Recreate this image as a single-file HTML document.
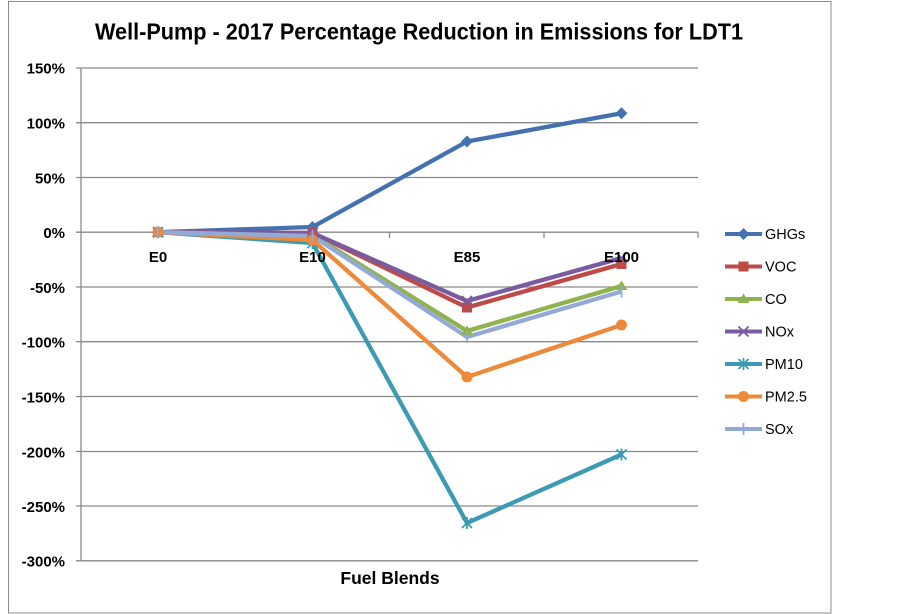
<!DOCTYPE html>
<html><head><meta charset="utf-8"><style>
html,body{margin:0;padding:0;background:#fff;}
svg{display:block;}
text{font-family:"Liberation Sans",sans-serif;}
</style></head><body>
<svg width="903" height="614" viewBox="0 0 903 614" xmlns="http://www.w3.org/2000/svg">
<rect x="0" y="0" width="903" height="614" fill="#fff"/>
<rect x="8.5" y="1.5" width="822.5" height="611.5" fill="#fff" stroke="#8c8c8c" stroke-width="1"/>
<text x="95" y="39.5" font-size="23" font-weight="bold" fill="#000" textLength="648" lengthAdjust="spacingAndGlyphs">Well-Pump - 2017 Percentage Reduction in Emissions for LDT1</text>

<g stroke="#8a8a8a" stroke-width="1.3" fill="none">
<line x1="76" y1="68" x2="698" y2="68"/>
<line x1="76" y1="122.7" x2="698" y2="122.7"/>
<line x1="76" y1="177.5" x2="698" y2="177.5"/>
<line x1="76" y1="232.2" x2="698" y2="232.2"/>
<line x1="76" y1="287" x2="698" y2="287"/>
<line x1="76" y1="341.7" x2="698" y2="341.7"/>
<line x1="76" y1="396.5" x2="698" y2="396.5"/>
<line x1="76" y1="451.5" x2="698" y2="451.5"/>
<line x1="76" y1="506" x2="698" y2="506"/>
<line x1="76" y1="560.8" x2="698" y2="560.8"/>
<line x1="81" y1="68" x2="81" y2="560.8"/>
<line x1="389.5" y1="232.2" x2="389.5" y2="238"/>
<line x1="544" y1="232.2" x2="544" y2="238"/>
<line x1="698" y1="232.2" x2="698" y2="238"/>
</g>

<g font-size="15" font-weight="bold" fill="#000" text-anchor="end">
<text x="65" y="73.5">150%</text>
<text x="65" y="128.5">100%</text>
<text x="65" y="183.5">50%</text>
<text x="65" y="238">0%</text>
<text x="65" y="293">-50%</text>
<text x="65" y="347.5">-100%</text>
<text x="65" y="402.5">-150%</text>
<text x="65" y="457.5">-200%</text>
<text x="65" y="512">-250%</text>
<text x="65" y="566.5">-300%</text>
</g>

<g stroke-width="4.3" fill="none" stroke-linejoin="round">
<polyline stroke="#4472b0" points="158,232.2 312.5,227 467,141.5 621.5,113.3"/>
<polyline stroke="#be4b48" points="158,232.2 312.5,233 467,307.5 621.5,264"/>
<polyline stroke="#8fb34f" points="158,232.2 312.5,235 467,331 621.5,286"/>
<polyline stroke="#7a5c9e" points="158,232.2 312.5,233 467,301 621.5,258"/>
<polyline stroke="#3c9bb3" points="158,232.2 312.5,243 467,523 621.5,454.5"/>
<polyline stroke="#ec8a3a" points="158,232.2 312.5,240 467,377 621.5,325"/>
<polyline stroke="#93aad6" points="158,232.2 312.5,236 467,337 621.5,291.5"/>
</g>

<!-- markers -->
<g fill="#4472b0">
<polygon points="158,226 164,232.2 158,238.4 152,232.2"/>
<polygon points="312.5,221 318.5,227 312.5,233 306.5,227"/>
<polygon points="467,135.5 473,141.5 467,147.5 461,141.5"/>
<polygon points="621.5,107.3 627.5,113.3 621.5,119.3 615.5,113.3"/>
</g>
<g fill="#be4b48">
<rect x="153" y="227.2" width="10" height="10"/>
<rect x="307.5" y="228" width="10" height="10"/>
<rect x="462" y="302.5" width="10" height="10"/>
<rect x="616.5" y="259" width="10" height="10"/>
</g>
<g fill="#8fb34f">
<polygon points="158,226.7 164,236.2 152,236.2"/>
<polygon points="312.5,229.5 318.5,239 306.5,239"/>
<polygon points="467,325.5 473,335 461,335"/>
<polygon points="621.5,280.5 627.5,290 615.5,290"/>
</g>
<g stroke="#7a5c9e" stroke-width="1.8">
<path d="M153,227.2l10,10M163,227.2l-10,10"/>
<path d="M307.5,228l10,10M317.5,228l-10,10"/>
<path d="M462,296l10,10M472,296l-10,10"/>
<path d="M616.5,253l10,10M626.5,253l-10,10"/>
</g>
<g stroke="#3c9bb3" stroke-width="1.8">
<path d="M153,227.2l10,10M163,227.2l-10,10M158,226v12.4"/>
<path d="M307.5,238l10,10M317.5,238l-10,10M312.5,237v12"/>
<path d="M462,518l10,10M472,518l-10,10M467,517v12"/>
<path d="M616.5,449.5l10,10M626.5,449.5l-10,10M621.5,448.5v12"/>
</g>
<g fill="#ec8a3a">
<circle cx="158" cy="232.2" r="5.5"/>
<circle cx="312.5" cy="240" r="5.5"/>
<circle cx="467" cy="377" r="5.5"/>
<circle cx="621.5" cy="325" r="5.5"/>
</g>
<g stroke="#93aad6" stroke-width="1.8">
<path d="M158,226v12.4"/>
<path d="M312.5,230v12"/>
<path d="M467,331v12"/>
<path d="M621.5,285.5v12"/>
</g>

<g font-size="15" font-weight="bold" fill="#000" text-anchor="middle">
<text x="158" y="262">E0</text>
<text x="312.5" y="262">E10</text>
<text x="467" y="262">E85</text>
<text x="621.5" y="262">E100</text>
</g>
<text x="390" y="584" font-size="17.5" font-weight="bold" fill="#000" text-anchor="middle">Fuel Blends</text>

<!-- legend -->
<g stroke-width="4" fill="none">
<line x1="725" y1="234" x2="762" y2="234" stroke="#4472b0"/>
<line x1="725" y1="266.5" x2="762" y2="266.5" stroke="#be4b48"/>
<line x1="725" y1="299" x2="762" y2="299" stroke="#8fb34f"/>
<line x1="725" y1="331.5" x2="762" y2="331.5" stroke="#7a5c9e"/>
<line x1="725" y1="364" x2="762" y2="364" stroke="#3c9bb3"/>
<line x1="725" y1="396.5" x2="762" y2="396.5" stroke="#ec8a3a"/>
<line x1="725" y1="429" x2="762" y2="429" stroke="#93aad6"/>
</g>
<polygon points="743.5,228 749.5,234 743.5,240 737.5,234" fill="#4472b0"/>
<rect x="738.5" y="261.5" width="10" height="10" fill="#be4b48"/>
<polygon points="743.5,293.5 749.5,303 737.5,303" fill="#8fb34f"/>
<path d="M738.5,326.5l10,10M748.5,326.5l-10,10" stroke="#7a5c9e" stroke-width="1.8"/>
<path d="M738.5,359l10,10M748.5,359l-10,10M743.5,358v12" stroke="#3c9bb3" stroke-width="1.8"/>
<circle cx="743.5" cy="396.5" r="5.5" fill="#ec8a3a"/>
<path d="M743.5,423v12" stroke="#93aad6" stroke-width="1.8"/>
<g font-size="14.5" fill="#000">
<text x="765" y="239">GHGs</text>
<text x="765" y="271.5">VOC</text>
<text x="765" y="304">CO</text>
<text x="765" y="336.5">NOx</text>
<text x="765" y="369">PM10</text>
<text x="765" y="401.5">PM2.5</text>
<text x="765" y="434">SOx</text>
</g>
</svg>
</body></html>
